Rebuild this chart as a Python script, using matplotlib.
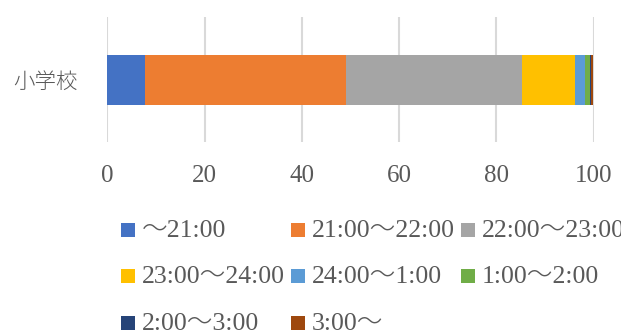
import matplotlib
matplotlib.use("Agg")
import matplotlib.pyplot as plt
from matplotlib.patches import Rectangle

categories = ["小学校"]
series_labels = ["～21:00", "21:00～22:00", "22:00～23:00", "23:00～24:00",
                 "24:00～1:00", "1:00～2:00", "2:00～3:00", "3:00～"]
series_values = [7.7, 41.3, 36.2, 10.9, 2.1, 1.0, 0.2, 0.5]
colors = ["#4472C4", "#ED7D31", "#A5A5A5", "#FFC000",
          "#5B9BD5", "#70AD47", "#264478", "#9E480E"]
xticks = [0, 20, 40, 60, 80, 100]

W, H = 621, 334
fig = plt.figure(figsize=(W / 100, H / 100), dpi=100)
fam = ["Liberation Serif", "Noto Sans CJK JP"]
txt_color = "#595959"

ax = fig.add_axes([107.3 / W, 1 - 142 / H, (593.8 - 107.3) / W, (142 - 17) / H])
left = 0
for lab, val, col in zip(series_labels, series_values, colors):
    ax.barh(categories, [val], left=[left], height=0.4, color=col, label=lab, zorder=3)
    left += val

ax.set_xlim(0, 100)
ax.set_ylim(-0.5, 0.5)
ax.set_xticks(xticks)
ax.set_xticklabels([str(t) for t in xticks], family=fam, fontsize=18, color=txt_color)
for lbl in ax.get_yticklabels():
    lbl.set_family(["Noto Sans CJK JP"])
    lbl.set_fontsize(15.5)
    lbl.set_color(txt_color)
    lbl.set_fontweight("light")
ax.tick_params(axis="x", length=0, pad=16.3)
ax.tick_params(axis="y", length=0, pad=21)
for s in ax.spines.values():
    s.set_visible(False)
ax.grid(axis="x", color="#D9D9D9", linewidth=1.5, zorder=0)
ax.set_axisbelow(True)

# legend (Excel style, equal column widths)
col_x = [121, 291, 461]
row_base = [237, 283, 330]
sq = 14
for i, (lab, col) in enumerate(zip(series_labels, colors)):
    r, c = divmod(i, 3)
    x0 = col_x[c]
    yb = row_base[r]
    fig.add_artist(Rectangle((x0 / W, 1 - (yb - 0.5) / H), sq / W, sq / H,
                             transform=fig.transFigure, color=col, lw=0))
    fig.text((x0 + 20.7) / W, 1 - yb / H, lab, family=fam, fontsize=18.5,
             color=txt_color, va="baseline", ha="left", fontweight="light")

fig.savefig("out.png", dpi=100)
